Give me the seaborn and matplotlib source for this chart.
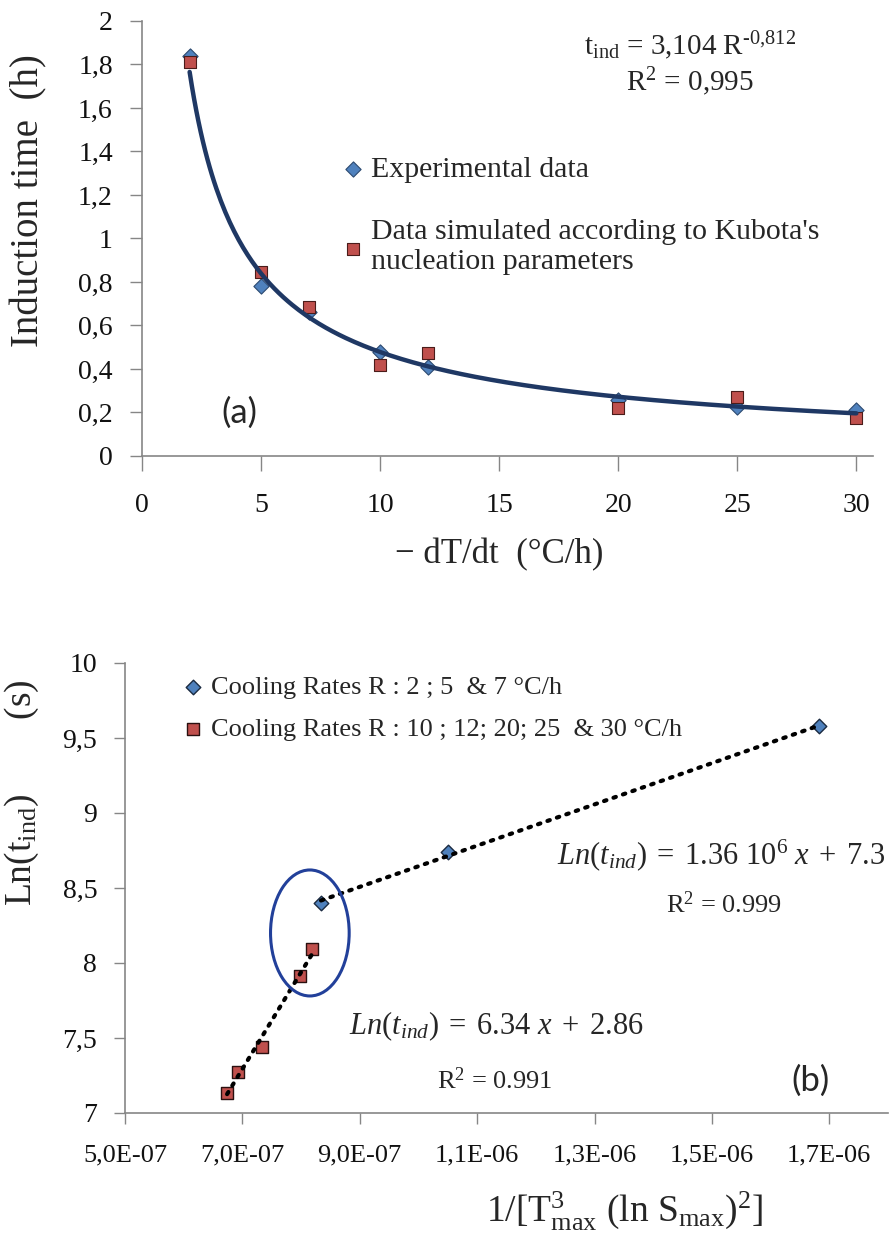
import numpy as np
import matplotlib
matplotlib.use("Agg")
import matplotlib.pyplot as plt
from matplotlib.patches import Ellipse
from matplotlib.ticker import FuncFormatter
import seaborn as sns

sns.set_theme(style="ticks")
plt.rcParams["font.family"] = ["Liberation Serif", "DejaVu Serif"]
plt.rcParams["mathtext.fontset"] = "custom"
plt.rcParams["mathtext.rm"] = "Liberation Serif"
plt.rcParams["mathtext.it"] = "Liberation Serif:italic"
plt.rcParams["mathtext.bf"] = "Liberation Serif:bold"

# (a) induction time vs cooling rate
rate = [2, 5, 7, 10, 12, 20, 25, 30]
t_exp = [1.84, 0.78, 0.66, 0.478, 0.41, 0.257, 0.225, 0.21]
t_sim = [1.81, 0.847, 0.686, 0.418, 0.473, 0.22, 0.272, 0.175]

# (b) Ln(t_ind) vs 1/[T^3 (ln S)^2]
x_slow = [8.34e-7, 1.051e-6, 1.683e-6]
ln_slow = [8.40, 8.737, 9.578]
x_fast = [6.74e-7, 6.92e-7, 7.33e-7, 7.99e-7, 8.18e-7]
ln_fast = [7.136, 7.275, 7.442, 7.916, 8.09]

BLUE = "#4f81bd"
RED = "#c0504d"
NAVY = "#1f3864"
AXC = "#868686"

fig = plt.figure(figsize=(8.92, 12.42), dpi=100)
ax1 = fig.add_axes([0.1592, 0.6329, 0.8195, 0.3502])
ax2 = fig.add_axes([0.1401, 0.1039, 0.8554, 0.3623])

comma = FuncFormatter(lambda v, p: f"{v:g}".replace(".", ","))

# ---- panel (a)
sns.scatterplot(x=rate, y=t_exp, marker="D", s=60, color=BLUE, edgecolor="#2c4a70",
                linewidth=0.8, label="Experimental data", ax=ax1, zorder=3)
sns.scatterplot(x=rate, y=t_sim, marker="s", s=64, color=RED, edgecolor="#4a1c1a",
                linewidth=0.8, label="Data simulated according to Kubota's\nnucleation parameters",
                ax=ax1, zorder=3)
# power-law trend fitted on the experimental points
b, a = np.polyfit(np.log(rate), np.log(t_exp), 1)
xs = np.linspace(min(rate), max(rate), 300)
sns.lineplot(x=xs, y=np.exp(a) * xs ** b, color=NAVY, lw=3.2, ax=ax1, zorder=4, legend=False)

ax1.set_xlim(0, 30.7)
ax1.set_ylim(0, 2)
ax1.set_xticks([0, 5, 10, 15, 20, 25, 30])
ax1.set_yticks(np.arange(0, 2.01, 0.2))
ax1.yaxis.set_major_formatter(comma)
ax1.tick_params(axis="x", labelsize=20, length=11, width=1, color=AXC, pad=16)
ax1.tick_params(axis="y", labelsize=20, length=9, width=1, color=AXC, pad=12)
ax1.set_ylabel("Induction time  (h)", fontsize=28)
ax1.yaxis.set_label_coords(-0.13, 0.586)
ax1.set_xlabel("\u2212 dT/dt  (°C/h)", fontsize=25)
ax1.xaxis.set_label_coords(0.488, -0.19)
ax1.legend(loc="upper left", bbox_to_anchor=(0.272, 0.689), frameon=False, fontsize=21.5,
           handlelength=0.8, handletextpad=0.2, labelspacing=1.2, borderpad=0, borderaxespad=0)
ax1.text(0.75, 0.943, r"t$_{\rm ind}$ = 3,104 R$^{\text{-0,812}}$", transform=ax1.transAxes,
         ha="center", va="center", fontsize=21)
ax1.text(0.75, 0.86, r"R$^2$ = 0,995", transform=ax1.transAxes,
         ha="center", va="center", fontsize=21)
ax1.text(0.133, 0.099, "(a)", transform=ax1.transAxes, ha="center", va="center",
         fontsize=25, family="Lato")

# ---- panel (b)
sns.scatterplot(x=x_slow, y=ln_slow, marker="D", s=55, color=BLUE, edgecolor="#1a2a40",
                linewidth=1, label="Cooling Rates R : 2 ; 5  & 7 °C/h", ax=ax2, zorder=3)
sns.scatterplot(x=x_fast, y=ln_fast, marker="s", s=64, color=RED, edgecolor="#2a1010",
                linewidth=1, label="Cooling Rates R : 10 ; 12; 20; 25  & 30 °C/h", ax=ax2, zorder=3)
dots = dict(color="black", lw=3, ls=(0, (0.6, 1.8)), dash_capstyle="round")
sns.regplot(x=x_slow, y=ln_slow, scatter=False, ci=None, truncate=True, line_kws=dots, ax=ax2)
sns.regplot(x=x_fast, y=ln_fast, scatter=False, ci=None, truncate=True, line_kws=dots, ax=ax2)
for ln in ax2.lines:
    ln.set_zorder(4)
ax2.add_patch(Ellipse((8.15e-7, 8.2), 1.34e-7, 0.84, fill=False, ec="#22409a", lw=2.2, zorder=5))

ax2.set_xlim(5e-7, 1.8e-6)
ax2.set_ylim(7, 10)
ax2.set_xticks(np.arange(5e-7, 1.71e-6, 2e-7))
ax2.set_yticks(np.arange(7, 10.01, 0.5))
ax2.xaxis.set_major_formatter(FuncFormatter(lambda v, p: f"{v:.1E}".replace(".", ",")))
ax2.yaxis.set_major_formatter(comma)
ax2.tick_params(axis="x", labelsize=19, length=8, width=1, color=AXC, pad=15)
ax2.tick_params(axis="y", labelsize=20, length=8, width=1, color=AXC, pad=12)
ax2.set_ylabel(r"Ln(t$_{\rm ind}$)        (s)", fontsize=27)
ax2.yaxis.set_label_coords(-0.11, 0.713)
ax2.set_xlabel(r"1/[T$^3_{\rm max}$ (ln S$_{\rm max}$)$^2$]", fontsize=27)
ax2.xaxis.set_label_coords(0.655, -0.17)
ax2.legend(loc="upper left", bbox_to_anchor=(0.075, 0.973), frameon=False, fontsize=19,
           handlelength=0.8, handletextpad=0.3, labelspacing=0.7, borderpad=0, borderaxespad=0)
ax2.text(0.782, 0.573, r"$Ln(t_{ind})\;=\;1.36\ 10^6\ x\;+\;7.3$", transform=ax2.transAxes,
         ha="center", va="center", fontsize=22)
ax2.text(0.785, 0.464, r"R$^2$ = 0.999", transform=ax2.transAxes, ha="center", va="center",
         fontsize=19)
ax2.text(0.486, 0.193, r"$Ln(t_{ind})\;=\;6.34\ x\;+\;2.86$", transform=ax2.transAxes,
         ha="center", va="center", fontsize=22)
ax2.text(0.485, 0.071, r"R$^2$ = 0.991", transform=ax2.transAxes, ha="center", va="center",
         fontsize=19)
ax2.text(0.899, 0.071, "(b)", transform=ax2.transAxes, ha="center", va="center",
         fontsize=25, family="Lato")

for ax in (ax1, ax2):
    sns.despine(ax=ax)
    for s in ("left", "bottom"):
        ax.spines[s].set_color(AXC)
        ax.spines[s].set_linewidth(1.2)
    ax.tick_params(colors="#111111", which="both")
    ax.tick_params(axis="both", color=AXC)

fig.savefig("out.png", dpi=100)
